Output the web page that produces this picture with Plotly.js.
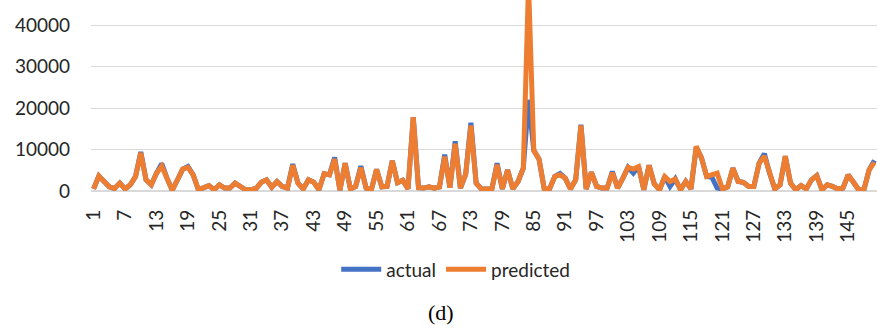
<!DOCTYPE html>
<html>
<head>
<meta charset="utf-8">
<script src="https://cdn.plot.ly/plotly-3.0.1.min.js"></script>
<style>html,body{margin:0;padding:0;background:#fff;}#chart{width:877px;height:331px;}</style>
</head>
<body>
<div id="chart"></div>
<script>
var categories = [1,2,3,4,5,6,7,8,9,10,11,12,13,14,15,16,17,18,19,20,21,22,23,24,25,26,27,28,29,30,
31,32,33,34,35,36,37,38,39,40,41,42,43,44,45,46,47,48,49,50,51,52,53,54,55,56,57,58,59,60,
61,62,63,64,65,66,67,68,69,70,71,72,73,74,75,76,77,78,79,80,81,82,83,84,85,86,87,88,89,90,
91,92,93,94,95,96,97,98,99,100,101,102,103,104,105,106,107,108,109,110,111,112,113,114,115,116,117,118,119,120,
121,122,123,124,125,126,127,128,129,130,131,132,133,134,135,136,137,138,139,140,141,142,143,144,145,146,147,148,149,150];

var actual = [500,3600,2300,1000,600,1900,500,1500,3500,9400,
2700,1500,4300,6600,3100,200,2700,5300,5900,3900,
300,700,1300,300,1500,700,700,1900,1000,300,
300,600,2100,2700,900,2300,1100,700,6500,1900,
500,2700,2100,300,4200,3900,8100,200,6700,500,
1100,6000,700,300,5200,1000,1100,7300,2000,2600,
500,17800,800,700,1000,700,1000,8800,800,12000,
700,4000,16500,1900,500,500,500,6700,500,5100,
500,2300,5500,22000,9800,7700,500,500,3500,4200,
3100,500,2700,16000,500,4500,1100,700,700,4700,
700,3100,5700,4300,5900,300,6200,1700,300,3500,
1100,2900,300,2300,500,10500,8000,3500,3300,700,
500,1000,5500,2300,2100,1100,1100,6700,9000,4300,
500,1500,8400,1900,300,1300,500,2700,3700,300,
1500,1100,500,700,3900,2100,300,300,5100,7400];

var predicted = [500,3600,2300,1000,600,1900,500,1500,3500,9200,
2700,1500,4300,6000,3100,200,2700,5300,5700,3900,
300,700,1300,300,1500,700,700,1900,1000,300,
300,600,2100,2700,900,2300,1100,700,6200,1900,
500,2700,2100,300,4200,3900,7700,200,6700,500,
1100,5600,700,300,5200,1000,1100,7300,2000,2600,
500,17800,800,700,1000,700,1000,8300,800,11400,
700,4000,15800,1900,500,500,500,6300,500,5100,
500,2300,5500,50000,9800,7700,500,500,3500,3900,
3100,500,2700,15800,500,4500,1100,700,700,4400,
700,3100,5700,5300,5900,300,6200,1700,300,3500,
2300,2900,300,2300,500,10800,8000,3500,3900,4300,
500,1000,5500,2300,2100,1100,1100,6700,8400,4300,
500,1500,8400,1900,300,1300,500,2700,3700,300,
1500,1100,500,700,3900,2100,300,300,5100,6900];

var tickValues = [1,7,13,19,25,31,37,43,49,55,61,67,73,79,85,91,97,103,109,115,121,127,133,139,145];
var tickLabels = ["1","7","13","19","25","31","37","43","49","55","61","67","73","79","85","91","97","103","109","115","121","127","133","139","145"];
var yTicks = [0,10000,20000,30000,40000];
var yTickLabels = ["0","10000","20000","30000","40000"];
var seriesNames = ["actual","predicted"];
var caption = "(d)";

var traces = [
  {x: categories, y: actual, name: seriesNames[0], type: 'scatter', mode: 'lines',
   line: {color: '#4472C4', width: 5}},
  {x: categories, y: predicted, name: seriesNames[1], type: 'scatter', mode: 'lines',
   line: {color: '#ED7D31', width: 5}}
];

var layout = {
  width: 877, height: 331,
  margin: {l: 91, r: 0, t: 0, b: 140, pad: 0},
  paper_bgcolor: '#fff', plot_bgcolor: '#fff',
  font: {family: 'Lato, "Liberation Sans", sans-serif', size: 19, color: '#262626'},
  showlegend: true,
  legend: {orientation: 'h', x: 0.464, xanchor: 'center', y: -0.41, yanchor: 'middle',
           font: {size: 19, color: '#262626'}, itemwidth: 40, traceorder: 'normal'},
  xaxis: {
    range: [0.5, 150.5], tickmode: 'array', tickvals: tickValues, ticktext: tickLabels,
    tickangle: -90, showgrid: false, zeroline: false, showline: false, ticks: '',
    ticklabelstandoff: 14, tickfont: {size: 19, color: '#262626'}
  },
  yaxis: {
    range: [0, 46100], tickmode: 'array', tickvals: yTicks, ticktext: yTickLabels,
    showgrid: true, gridcolor: '#D9D9D9', gridwidth: 1.2,
    zeroline: true, zerolinecolor: '#D9D9D9', zerolinewidth: 1.2,
    showline: false, ticks: '', ticklabelstandoff: 20,
    tickfont: {size: 19, color: '#262626'}
  },
  annotations: [{text: caption, xref: 'paper', yref: 'paper', x: 0.445, y: -0.635,
    xanchor: 'center', yanchor: 'middle', showarrow: false,
    font: {family: '"Liberation Serif", "Times New Roman", serif', size: 22, color: '#000'}}]
};

Plotly.newPlot('chart', traces, layout, {displayModeBar: false, staticPlot: true});
</script>
</body>
</html>
